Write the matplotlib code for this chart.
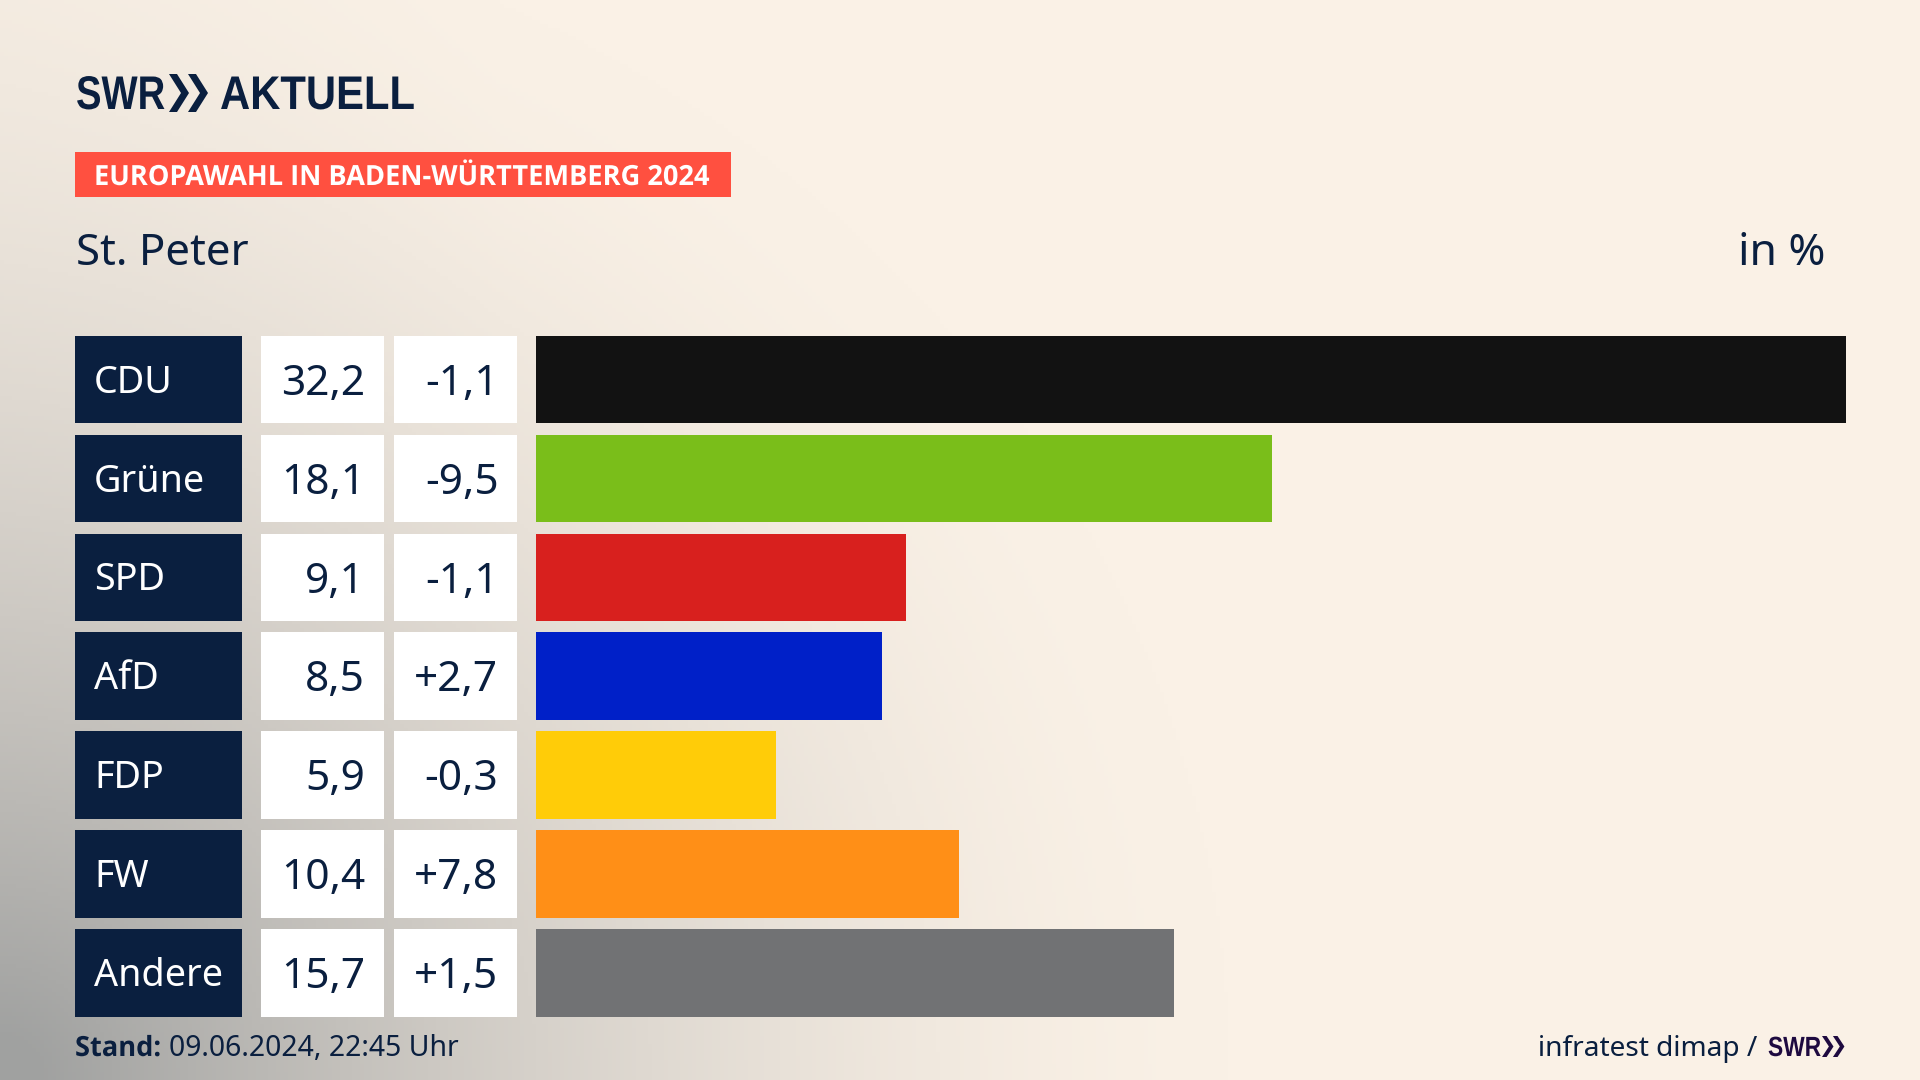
import numpy as np
import matplotlib
matplotlib.use("Agg")
import matplotlib.pyplot as plt
import matplotlib.patheffects as pe
from matplotlib.patches import Rectangle, Polygon
from matplotlib.transforms import Affine2D

parties = ["CDU", "Grüne", "SPD", "AfD", "FDP", "FW", "Andere"]
shares = [32.2, 18.1, 9.1, 8.5, 5.9, 10.4, 15.7]
changes = [-1.1, -9.5, -1.1, 2.7, -0.3, 7.8, 1.5]
bar_colors = ["#121212", "#7abe1a", "#d8201e", "#0020c8", "#ffcc08", "#ff8f17", "#717274"]

title = "EUROPAWAHL IN BADEN-WÜRTTEMBERG 2024"
place = "St. Peter"
unit = "in %"
stand_label = "Stand:"
stand_date = "09.06.2024, 22:45 Uhr"
source = "infratest dimap /"

NAVY = "#0a1f3f"
plt.rcParams["font.family"] = ["Noto Sans", "DejaVu Sans"]


class Squeeze(pe.AbstractPathEffect):
    # no condensed bold fonts here, so narrow the text when it is drawn
    def __init__(self, sx):
        super().__init__()
        self.sx = sx

    def draw_path(self, renderer, gc, tpath, affine, rgbFace=None):
        renderer.draw_path(gc, tpath, Affine2D().scale(self.sx, 1) + affine, rgbFace)


fig = plt.figure(figsize=(19.2, 10.8), dpi=100)

# page axes works in pixels, y going down
ax = fig.add_axes([0, 0, 1, 1])
ax.set_xlim(0, 1920)
ax.set_ylim(1080, 0)
ax.axis("off")

# background: cream with a grey glow from the bottom left corner
yy, xx = np.mgrid[0:1080:270j, 0:1920:480j]
dist = np.sqrt((xx / 1230) ** 2 + ((1080 - yy) / 1180) ** 2)
glow = np.clip(1 - dist, 0, 1) ** 1.6 + 0.05 * np.clip(1 - xx / 500, 0, 1)
cream = np.array([250, 241, 230]) / 255
grey = np.array([160, 161, 160]) / 255
bg = cream + (grey - cream) * np.clip(glow, 0, 1)[..., None]
ax.imshow(bg, extent=(0, 1920, 1080, 0), aspect="auto", zorder=0)

# logo
ax.text(76, 109, "SWR", family="Liberation Sans", weight="bold", fontsize=34, color=NAVY,
        path_effects=[Squeeze(0.81)])
ax.text(220, 109, "AKTUELL", family="Liberation Sans", weight="bold", fontsize=34, color=NAVY,
        path_effects=[Squeeze(0.885)])


def chevrons(x, top, bottom, w, color):
    mid = (top + bottom) / 2
    for dx in (0, w * 0.95):
        ax.add_patch(Polygon([(x + dx, top), (x + dx + w * 0.4, top), (x + dx + w, mid),
                              (x + dx + w * 0.4, bottom), (x + dx, bottom), (x + dx + w * 0.6, mid)],
                             color=color, lw=0))


chevrons(169, 74, 112, 20, NAVY)

# header
ax.add_patch(Rectangle((75, 152), 656, 45, color="#ff5040", lw=0))
ax.text(94, 185, title, family="Open Sans", weight="bold", color="white", fontsize=20,
        path_effects=[Squeeze(0.98)])
ax.text(76, 265, place, color=NAVY, fontsize=31.5)
ax.text(1825, 265, unit, color=NAVY, fontsize=32, ha="right")

# table rows
ROW_TOP = 335.7
ROW_STEP = 98.9
ROW_H = 87.5
for i, party in enumerate(parties):
    top = ROW_TOP + i * ROW_STEP
    base = top + 59
    ax.add_patch(Rectangle((75, top), 167, ROW_H, color=NAVY, lw=0))
    ax.add_patch(Rectangle((261, top), 123, ROW_H, color="white", lw=0))
    ax.add_patch(Rectangle((394, top), 123, ROW_H, color="white", lw=0))
    ax.text(94, base - 2, party, color="white", fontsize=27.2)
    ax.text(365, base, f"{shares[i]:.1f}".replace(".", ","), color=NAVY, fontsize=30.5, ha="right")
    ax.text(498.5, base, f"{changes[i]:+.1f}".replace(".", ","), color=NAVY, fontsize=30.5, ha="right")

# footer
ax.text(75, 1056, stand_label, family="Open Sans", weight="bold", color=NAVY, fontsize=20,
        path_effects=[Squeeze(0.98)])
ax.text(169, 1056, stand_date, color=NAVY, fontsize=20.4)
ax.text(1757, 1056, source, color=NAVY, fontsize=20.2, ha="right")
ax.text(1768, 1056, "SWR", family="Liberation Sans", weight="bold", fontsize=20, color="#1e0a40",
        path_effects=[Squeeze(0.82)])
chevrons(1822, 1036, 1057, 11.5, "#1e0a40")

# bars, on their own axes lined up with the rows
ax_bars = fig.add_axes([536 / 1920, 1 - (ROW_TOP + 7 * ROW_STEP - (ROW_STEP - ROW_H) / 2) / 1080,
                        (1845.5 - 536) / 1920, 7 * ROW_STEP / 1080])
ax_bars.barh(range(len(parties)), shares, height=ROW_H / ROW_STEP, color=bar_colors)
ax_bars.set_xlim(0, max(shares))
ax_bars.set_ylim(len(parties) - 0.5, -0.5)
ax_bars.axis("off")

fig.savefig("out.png", dpi=100)
